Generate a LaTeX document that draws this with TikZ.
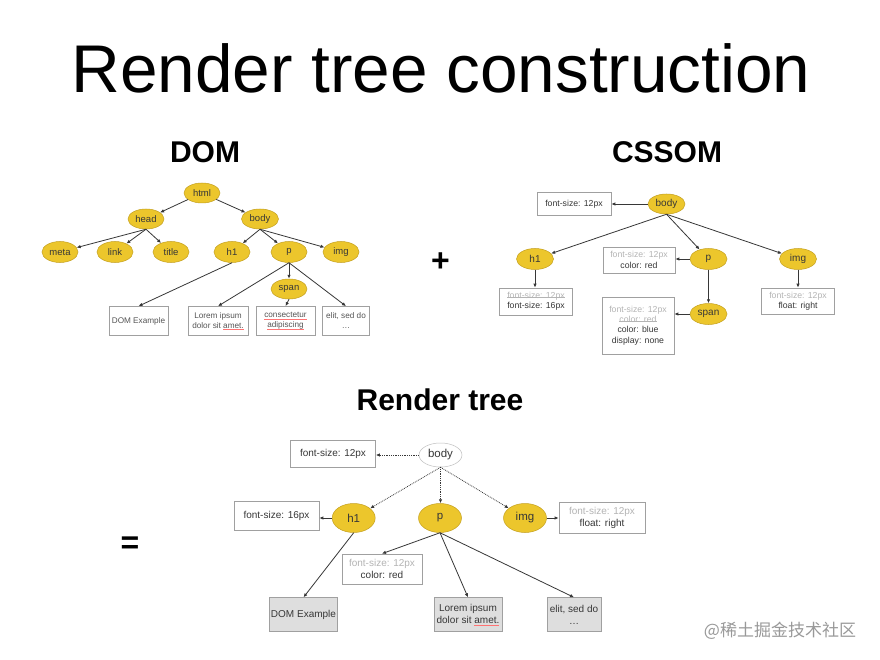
\documentclass[tikz,border=0pt]{standalone}
\usepackage{fontspec}
\setmainfont{Liberation Sans}
\newfontfamily\cjkfont{Noto Sans CJK SC}
\usetikzlibrary{shapes.geometric,arrows.meta}
\definecolor{ylw}{RGB}{236,198,44}
\definecolor{ylwd}{RGB}{196,160,30}
\definecolor{txt}{RGB}{55,55,55}
\definecolor{dtxt}{RGB}{85,85,85}
\definecolor{faded}{RGB}{180,180,180}
\definecolor{boxline}{RGB}{160,160,160}
\definecolor{boxfill}{RGB}{222,222,222}
\newcommand\strk[1]{{\setbox0\hbox{#1}\rlap{\raisebox{0.3ex}{\rule{\wd0}{0.4pt}}}\box0}}
\newcommand\redul[1]{{\setbox0\hbox{#1}\rlap{\color{red!55}\raisebox{-0.35ex}{\rule{\wd0}{0.35pt}}}\box0}}
\tikzset{
  el/.style={ellipse, fill=ylw, draw=ylwd, line width=0.5pt, inner sep=0pt, text=txt},
  del/.style={el, minimum width=36pt, minimum height=20pt, font=\fontsize{9.5}{11}\selectfont},
  cel/.style={el, minimum width=37pt, minimum height=21pt, font=\fontsize{10}{12}\selectfont},
  rel/.style={el, minimum width=43pt, minimum height=29pt, font=\fontsize{11.5}{13}\selectfont},
  bx/.style={draw=boxline, line width=0.7pt, fill=white, align=center, inner sep=0pt},
  dbox/.style={bx, text=dtxt, minimum height=29pt, font=\fontsize{8.2}{10}\selectfont},
  cbox/.style={bx, text=txt, font=\fontsize{8.7}{10.3}\selectfont},
  rbox/.style={bx, text=txt, font=\fontsize{10}{12.5}\selectfont},
  arr/.style={draw=txt, line width=0.8pt, -{Latex[length=4pt,width=3.5pt]}},
  darr/.style={arr, densely dotted},
  heading/.style={anchor=base, font=\bfseries\fontsize{30}{36}\selectfont},
}
\begin{document}
\begin{tikzpicture}[x=1pt,y=-1pt]
\useasboundingbox (0,0) rectangle (880,660);
\fill[white] (0,0) rectangle (880,660);

% titles
\node[anchor=base, font=\fontsize{67.5}{72}\selectfont] (title) at (441,93) {Render tree construction};
\node[heading] (domh) at (205,163) {DOM};
\node[heading] (cssomh) at (667,163) {CSSOM};
\node[heading] (renderh) at (440,410) {Render tree};
\node[font=\bfseries\fontsize{32}{36}\selectfont] (plus) at (440.5,262) {+};
\node[font=\bfseries\fontsize{32}{36}\selectfont] (eq) at (130,545) {=};

% ---------------- DOM ----------------
\node[del] (html) at (202,193) {html};
\node[del] (head) at (146,219) {head};
\node[del, minimum width=37pt] (body) at (260,219) {body};
\node[del, minimum height=21pt] (meta) at (60,252) {meta};
\node[del, minimum height=21pt] (link) at (115,252) {link};
\node[del, minimum height=21pt] (titl) at (171,252) {title};
\node[del, minimum height=21pt] (h1) at (232,252) {h1};
\node[del, minimum height=21pt] (p) at (289,252) {p};
\node[del, minimum height=21pt] (img) at (341,252) {img};
\node[del] (span) at (289,289) {span};
\node[dbox, minimum width=59pt] (domex) at (138.5,321) {DOM Example};
\node[dbox, minimum width=60pt] (lorem) at (218,321) {Lorem ipsum\\dolor sit \redul{amet.}};
\node[dbox, minimum width=59pt] (consec) at (285.5,321) {\redul{consectetur}\\\redul{adipiscing}};
\node[dbox, minimum width=47pt] (elit) at (346,321) {elit, sed do\\\ldots};

\draw[arr] (html) -- (head);
\draw[arr] (html) -- (body);
\draw[arr] (head.south) -- (meta);
\draw[arr] (head.south) -- (link);
\draw[arr] (head.south) -- (titl);
\draw[arr] (body.south) -- (h1);
\draw[arr] (body.south) -- (p);
\draw[arr] (body.south) -- (img);
\draw[arr] (h1.south) -- (domex.north);
\draw[arr] (p.south) -- (lorem.north);
\draw[arr] (p.south) -- (span);
\draw[arr] (p.south) -- (elit.north);
\draw[arr] (span.south) -- (consec.north);

% ---------------- CSSOM ----------------
\node[cel, minimum height=20pt] (cbody) at (666.5,204) {body};
\node[cbox, minimum width=74pt, minimum height=23pt] (cfs) at (574,204) {font-size: 12px};
\node[cel] (ch1) at (535,259) {h1};
\node[cel] (cp) at (708.5,259) {p};
\node[cel] (cimg) at (798,259) {img};
\node[cbox, minimum width=72pt, minimum height=26pt] (cpbox) at (639,260) {{\color{faded}font-size: 12px}\\color: red};
\node[cbox, minimum width=73pt, minimum height=27pt] (ch1box) at (536,301.5) {{\color{faded}\strk{font-size: 12px}}\\font-size: 16px};
\node[cel] (cspan) at (708.5,314) {span};
\node[cbox, minimum width=72pt, minimum height=57pt] (cspanbox) at (638,325.5) {{\color{faded}font-size: 12px}\\{\color{faded}\strk{color: red}}\\color: blue\\display: none};
\node[cbox, minimum width=73pt, minimum height=26pt] (cimgbox) at (798,301) {{\color{faded}font-size: 12px}\\float: right};

\draw[arr] (cbody.west) -- (cfs.east |- cbody.west);
\draw[arr] (cbody.south) -- (ch1);
\draw[arr] (cbody.south) -- (cp);
\draw[arr] (cbody.south) -- (cimg);
\draw[arr] (cp.west) -- (cpbox.east |- cp.west);
\draw[arr] (cp.south) -- (cspan.north);
\draw[arr] (ch1.south) -- (ch1box.north -| ch1.south);
\draw[arr] (cimg.south) -- (cimgbox.north);
\draw[arr] (cspan.west) -- (cspanbox.east |- cspan.west);

% ---------------- Render tree ----------------
\node[rel, fill=white, draw=black!25, minimum height=24pt] (rbody) at (440.5,455) {body};
\node[rbox, minimum width=85pt, minimum height=27pt] (rfs) at (333,454) {font-size: 12px};
\node[rel] (rh1) at (353.7,518) {h1};
\node[rel] (rp) at (440,518) {p};
\node[rel] (rimg) at (525,518) {img};
\node[rbox, minimum width=85pt, minimum height=29pt] (rh1box) at (276.5,516) {font-size: 16px};
\node[rbox, minimum width=86pt, minimum height=31pt] (rimgbox) at (602,518) {{\color{faded}font-size: 12px}\\float: right};
\node[rbox, minimum width=80pt, minimum height=30pt] (rpbox) at (382,569) {{\color{faded}font-size: 12px}\\color: red};
\node[rbox, fill=boxfill, minimum width=68pt, minimum height=34pt] (rdom) at (303.5,614.7) {DOM Example};
\node[rbox, fill=boxfill, minimum width=68pt, minimum height=34pt] (rlorem) at (468,614.7) {Lorem ipsum\\dolor sit \redul{amet.}};
\node[rbox, fill=boxfill, minimum width=54pt, minimum height=34pt] (relit) at (574,614.7) {elit, sed do\\\ldots};

\draw[darr] (rbody.west) -- (rfs.east |- rbody.west);
\draw[darr] (rbody.south) -- (rh1);
\draw[darr] (rbody.south) -- (rp.north -| rbody.south);
\draw[darr] (rbody.south) -- (rimg);
\draw[arr] (rh1.west) -- (rh1box.east |- rh1.west);
\draw[arr] (rimg.east) -- (rimgbox.west |- rimg.east);
\draw[arr] (rh1.south) -- (rdom.north);
\draw[arr] (rp.south) -- (rpbox.north);
\draw[arr] (rp.south) -- (rlorem.north);
\draw[arr] (rp.south) -- (relit.north);

% watermark
\node[text=black!40, font=\cjkfont\fontsize{17}{20}\selectfont] (wm) at (780,631) {@稀土掘金技术社区};
\end{tikzpicture}
\end{document}
